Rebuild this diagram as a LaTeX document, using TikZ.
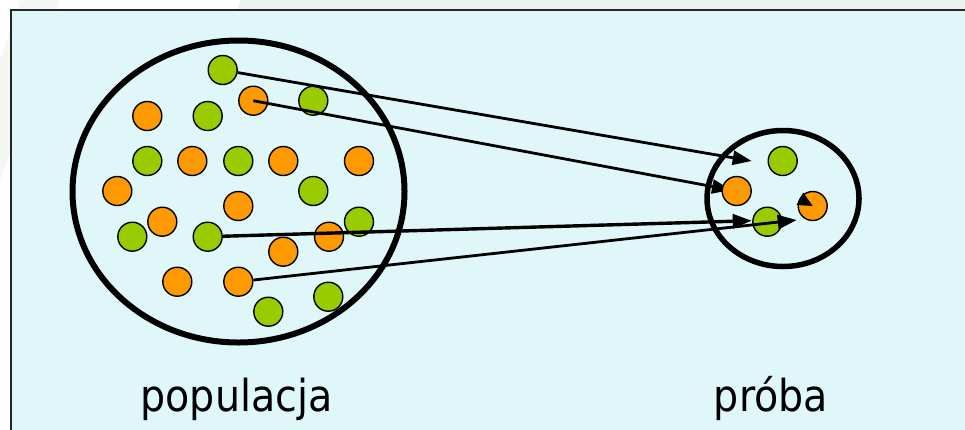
\documentclass[tikz,border=0pt]{standalone}
\usepackage{fontspec}
\newfontfamily\labfont{DejaVu Sans Condensed}
\usetikzlibrary{arrows.meta}
\definecolor{boxfill}{RGB}{224,247,249}
\definecolor{outerbg}{RGB}{234,242,237}
\definecolor{dotgreen}{RGB}{153,204,0}
\definecolor{dotorange}{RGB}{255,153,0}
\tikzset{
  dot/.style={circle, draw=black, line width=1.4pt, minimum size=29pt, inner sep=0pt},
  gdot/.style={dot, fill=dotgreen},
  odot/.style={dot, fill=dotorange},
  arr/.style={line width=2.8pt, -{Triangle[length=19pt,width=14pt]}},
  lab/.style={anchor=base, inner sep=0pt, font=\labfont\fontsize{44}{50}\selectfont}
}
\begin{document}
\begin{tikzpicture}[x=1pt,y=-1pt]
\useasboundingbox (0,0) rectangle (965,429);
% background
\fill[outerbg] (0,0) rectangle (965,429);
\fill[white] (0,0) -- (240,0) -- (238,10) -- (11,10) -- (11,429) -- (0,429) -- cycle;
\fill[outerbg!60!white] (0,60) -- (20,0) -- (60,0) -- (11,150) -- (0,180) -- cycle;
\fill[boxfill] (11,10) rectangle (970,435);
\draw[line width=2pt, black!85] (11,435) -- (11,10) -- (970,10);

% population dots (green first, oranges on top)
\node[gdot] (g1)  at (222.7,70) {};
\node[gdot] (g2)  at (313.3,100.7) {};
\node[gdot] (g3)  at (207.7,116) {};
\node[gdot] (g4)  at (147.3,161) {};
\node[gdot] (g5)  at (238.3,161) {};
\node[gdot] (g6)  at (313.3,191) {};
\node[gdot] (g7)  at (359,221.7) {};
\node[gdot] (g8)  at (132.3,236.7) {};
\node[gdot] (g9)  at (207.7,236.7) {};
\node[gdot] (g10) at (268.3,311.7) {};
\node[gdot] (g11) at (328.3,296.7) {};
\node[odot] (o1)  at (253.3,100.7) {};
\node[odot] (o2)  at (147.3,116) {};
\node[odot] (o3)  at (192.3,161) {};
\node[odot] (o4)  at (283.3,161) {};
\node[odot] (o5)  at (359,161) {};
\node[odot] (o6)  at (117.3,191) {};
\node[odot] (o7)  at (238.3,206) {};
\node[odot] (o8)  at (162.3,221.7) {};
\node[odot] (o9)  at (329,236.7) {};
\node[odot] (o10) at (283.3,251.7) {};
\node[odot] (o11) at (177.3,281.7) {};
\node[odot] (o12) at (238.3,281.7) {};

% the two sets
\draw[line width=6pt] (238.5,191.5) ellipse [x radius=166, y radius=151];
\draw[line width=5.5pt] (783,198.5) ellipse [x radius=76, y radius=68];

% sample dots
\node[gdot] (s1) at (782.7,161) {};
\node[gdot] (s3) at (767.3,221.7) {};
\node[odot] (s4) at (812.7,206) {};

% arrow tips
\coordinate (t1) at (751.7,161);
\coordinate (t2) at (731,190);
\coordinate (t3) at (751.7,220.7);
\coordinate (t4) at (796.7,220);

\draw[arr] (g1) -- (t1);
\draw[arr] (o1.center) -- (t2);
\draw[arr, line width=3.4pt] (g9) -- (t3);
\draw[arr] (o12) -- (t4);

% sample orange dot drawn over the arrow tip
\node[odot] (s2) at (736.7,191) {};
% black wedge on the right orange sample dot
\fill[black] (s4.center) -- (803.3,192.7) -- (796.5,205) -- cycle;

% labels
\node[lab] (pop) at (236.5,411.7) {populacja};
\node[lab] (pro) at (771,411.7) {próba};
\end{tikzpicture}
\end{document}
